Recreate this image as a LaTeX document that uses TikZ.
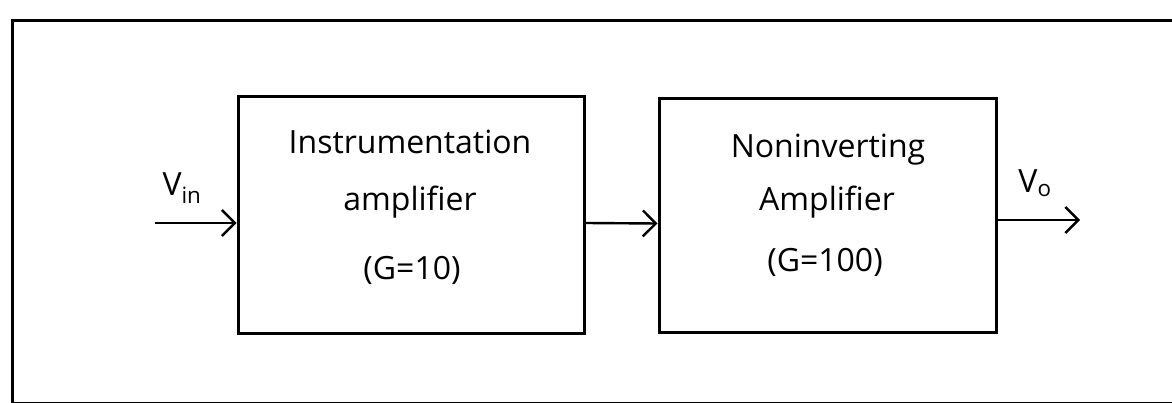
\documentclass[tikz,border=0pt]{standalone}
\usepackage{fontspec}
\setmainfont{Open Sans}
\usetikzlibrary{arrows.meta}

\begin{document}
\begin{tikzpicture}[x=1pt,y=-1pt,line width=2.6pt,
    font=\fontsize{32}{38}\selectfont,
    block/.style={draw,line width=3pt,inner sep=0pt},
    sig/.style={-{Straight Barb[length=13pt,width=26pt,line width=2.4pt]},line width=2.4pt}]
    \clip (0,0) rectangle (1172,403);
    % frame
    \draw[line width=3pt] (12,21) rectangle (1200,403);
    % blocks
    \node[block,minimum width=346pt,minimum height=236pt] (amp1) at (411,215) {};
    \node[block,minimum width=337pt,minimum height=233pt] (amp2) at (827.5,215.5) {};
    \node (amp1a) at (410,142) {Instrumentation};
    \node (amp1b) at (410,202) {amplifier};
    \node (amp1c) at (412,270) {(G=10)};
    \node (amp2a) at (828,150) {Noninverting};
    \node (amp2b) at (827,202) {Amplifier};
    \node (amp2c) at (825,262) {(G=100)};
    % signals
    \coordinate (vin) at (155,223);
    \coordinate (vo) at (1080,220);
    \node (vinl) at (182,188) {V\textsubscript{in}};
    \node (vol) at (1035,183) {V\textsubscript{o}};
    \draw[sig] (vin) -- (vin -| amp1.west);
    \draw[sig] ([yshift=-8pt]amp1.east) -- ([yshift=-8pt]amp2.west);
    \draw[sig] (vo -| amp2.east) -- (vo);
\end{tikzpicture}
\end{document}
